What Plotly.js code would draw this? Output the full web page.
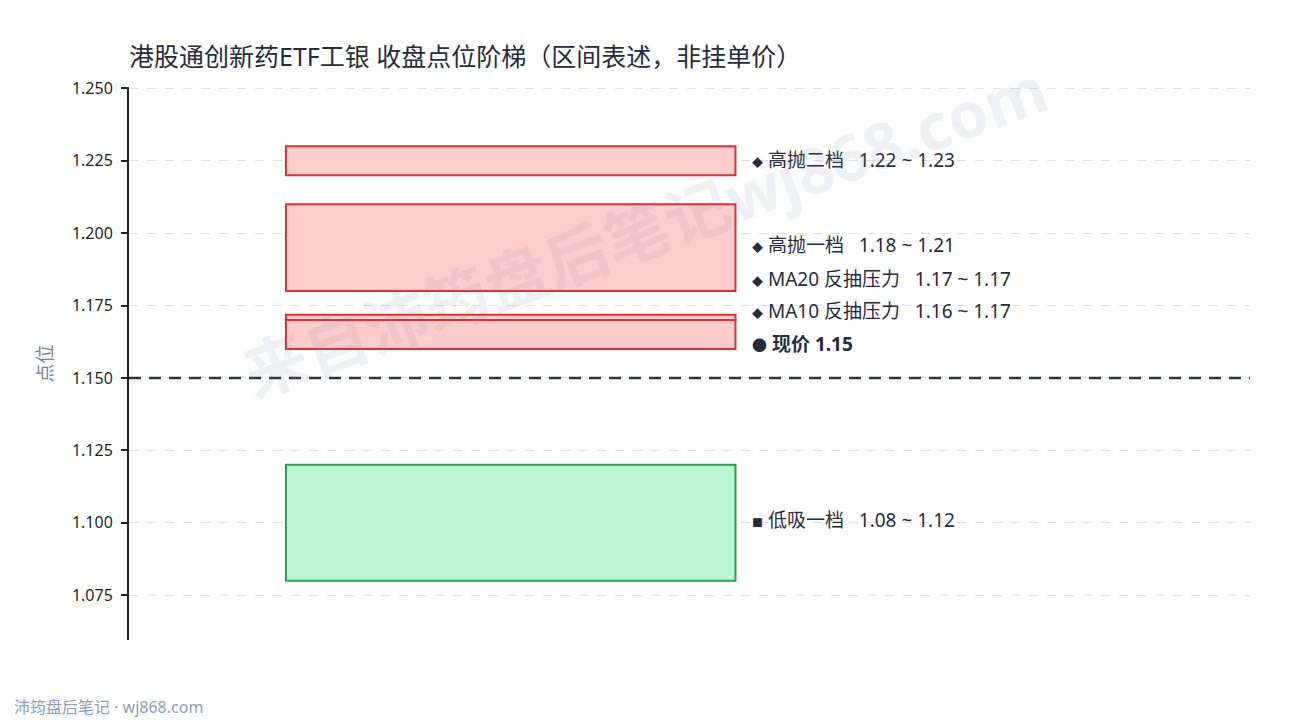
<!DOCTYPE html>
<html>
<head>
<meta charset="utf-8">
<script src="https://cdn.plot.ly/plotly-3.0.1.min.js"></script>
<style>
  html, body { margin: 0; padding: 0; background: #fff; }
  #chart { width: 1290px; height: 720px; }
</style>
</head>
<body>
<div id="chart"></div>
<script>
// 区间数据（收盘点位）
const zoneNames = ['高抛二档', '高抛一档', 'MA20 反抽压力', 'MA10 反抽压力', '低吸一档'];
const zoneLow   = [1.22, 1.18, 1.170, 1.16, 1.08];
const zoneHigh  = [1.23, 1.21, 1.1718, 1.170, 1.12];
const zoneSide  = ['sell', 'sell', 'sell', 'sell', 'buy'];
const lastClose = 1.15;
const yTicks    = [1.075, 1.100, 1.125, 1.150, 1.175, 1.200, 1.225, 1.250];

// label rows (pushed apart where they crowd), same order as zones; then 现价
const LABEL_Y = [1.2252, 1.1959, 1.1842, 1.1731, 1.1008];
const CLOSE_LABEL_Y = 1.1617;

const FONT = '"Noto Sans", "Noto Sans CJK SC", sans-serif';
const INK = '#262c3d';
const BOX_X0 = 0.14, BOX_X1 = 0.541, LABEL_X = 0.554;

const shapes = zoneNames.map((n, i) => ({
  type: 'rect', xref: 'x', yref: 'y', layer: 'above',
  x0: BOX_X0, x1: BOX_X1, y0: zoneLow[i], y1: zoneHigh[i],
  fillcolor: zoneSide[i] === 'sell' ? '#ffcccc' : '#bdf6d3',
  line: { color: zoneSide[i] === 'sell' ? '#e03131' : '#22a34c', width: 2 }
}));
shapes.push({
  type: 'line', xref: 'paper', yref: 'y', layer: 'above',
  x0: 0, x1: 1, y0: lastClose, y1: lastClose,
  line: { color: '#2f3441', width: 2.5, dash: '12px,8px' }
});

const sp = '\u00a0\u00a0\u00a0';
const annotations = zoneNames.map((n, i) => ({
  xref: 'x', yref: 'y', x: LABEL_X, y: LABEL_Y[i], xanchor: 'left', yanchor: 'middle',
  showarrow: false, align: 'left',
  text: '<span style="font-size:11px">' + (zoneSide[i] === 'sell' ? '◆' : '■') + '</span>\u00a0' +
        n + sp + zoneLow[i].toFixed(2) + ' ~ ' + zoneHigh[i].toFixed(2),
  font: { family: FONT, size: 19, color: INK }
}));
annotations.push({
  xref: 'x', yref: 'y', x: LABEL_X, y: CLOSE_LABEL_Y, xanchor: 'left', yanchor: 'middle',
  showarrow: false, text: '<b><span style="font-size:15px">●</span>\u00a0现价 ' + lastClose.toFixed(2) + '</b>',
  font: { family: FONT, size: 19, color: INK }
});
// watermark
annotations.push({
  xref: 'paper', yref: 'paper', x: 0.4603, y: 0.7414, xanchor: 'center', yanchor: 'middle',
  showarrow: false, textangle: -20, text: '<b>来自沛筠盘后笔记wj868.com</b>',
  font: { family: FONT, size: 64, color: 'rgba(110,122,155,0.11)' }
});
// footer
annotations.push({
  xref: 'paper', yref: 'paper', x: -0.1044, y: -0.1212, xanchor: 'left', yanchor: 'middle',
  showarrow: false, text: '沛筠盘后笔记 · wj868.com',
  font: { family: FONT, size: 16, color: '#8d9dba' }
});

const layout = {
  width: 1290, height: 720,
  margin: { l: 129, r: 40, t: 87, b: 80 },
  paper_bgcolor: '#fff', plot_bgcolor: '#fff',
  showlegend: false,
  font: { family: FONT, color: INK },
  title: {
    text: '港股通创新药ETF工银 收盘点位阶梯（区间表述，非挂单价）',
    x: 0, xref: 'paper', xanchor: 'left', y: 1 - 57 / 720, yanchor: 'middle',
    font: { family: FONT, size: 25, color: INK }
  },
  xaxis: { range: [0, 1], visible: false, fixedrange: true },
  yaxis: {
    range: [1.0595, 1.2505],
    tickvals: yTicks, ticktext: yTicks.map(v => v.toFixed(3)),
    ticks: 'outside', ticklen: 6, tickwidth: 2, tickcolor: '#222',
    ticklabelstandoff: 5,
    tickfont: { family: FONT, size: 16, color: '#1f1f1f' },
    showline: true, linecolor: '#222', linewidth: 2,
    showgrid: true, gridcolor: '#dedede', griddash: 'dash', gridwidth: 1,
    zeroline: false,
    title: { text: '点位', standoff: 14, font: { family: FONT, size: 19, color: '#7a8294' } }
  },
  shapes, annotations
};

// invisible trace so the axes are built from data space
const data = [{ x: [0, 1], y: [zoneLow[4], zoneHigh[0]], type: 'scatter', mode: 'markers',
  marker: { opacity: 0 }, hoverinfo: 'skip' }];

Plotly.newPlot('chart', data, layout, { displayModeBar: false, staticPlot: true });
</script>
</body>
</html>
